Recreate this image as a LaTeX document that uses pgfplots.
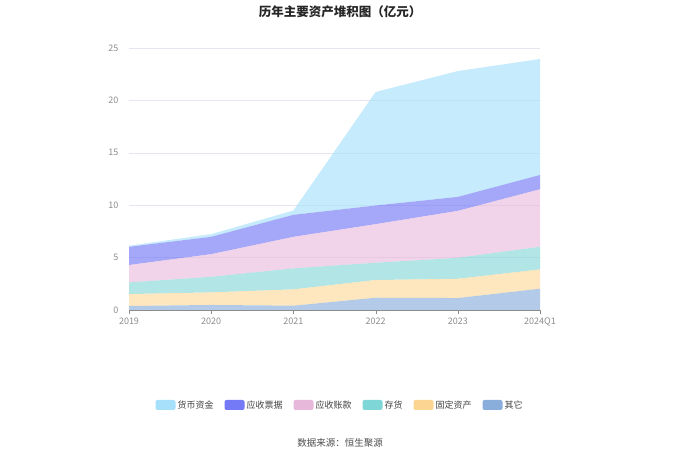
\documentclass[border=0pt]{standalone}
\usepackage{fontspec}
\setmainfont{Noto Sans CJK SC}
\usepackage{pgfplots}
\pgfplotsset{compat=1.18}
\definecolor{cCash}{HTML}{A6E0FA}
\definecolor{cNote}{HTML}{7479F5}
\definecolor{cRec}{HTML}{E8B8DA}
\definecolor{cInv}{HTML}{7FD6D6}
\definecolor{cFix}{HTML}{FDD592}
\definecolor{cOth}{HTML}{8AAEDC}
\definecolor{tickgray}{HTML}{8C8C8C}
\definecolor{gridc}{HTML}{E6E6F0}
\begin{document}
\begin{tikzpicture}[x=1pt,y=1pt]
\path[use as bounding box] (0,0) rectangle (680,460);
\node[font=\fontsize{12.5}{14}\selectfont\bfseries, text=black!85] at (340,448) {历年主要资产堆积图（亿元）};
\node[font=\fontsize{9.5}{11}\selectfont, text=black!70] at (340,17) {数据来源：恒生聚源};
\begin{axis}[
  at={(129pt,150pt)}, anchor=origin,
  scale only axis, width=411pt, height=262pt,
  xmin=0, xmax=5, ymin=0, ymax=25,
  stack plots=y,
  xtick={0,1,2,3,4,5},
  xticklabels={2019,2020,2021,2022,2023,2024Q1},
  ytick={0,5,10,15,20,25},
  /pgf/number format/assume math mode=true,
  ticklabel style={font=\fontsize{9}{10}\selectfont, text=tickgray},
  axis x line*=bottom, axis y line*=left,
  x axis line style={-, draw=black!45},
  y axis line style={draw=none},
  xtick style={draw=black!45},
  tick align=outside, major tick length=4pt,
  ymajorgrids, grid style={draw=gridc},
  ytick style={draw=none},
  yticklabel style={xshift=-3pt},
  clip=false,
  reverse legend,
  legend columns=6,
  legend style={at={(0.5134,-0.3626)}, anchor=center, draw=none, fill=none,
    font=\fontsize{9}{10}\selectfont, text=black!75,
    /tikz/every even column/.append style={column sep=9pt}},
  legend cell align=left,
]
\addplot[draw=none, fill=cOth, fill opacity=0.65,
  legend image code/.code={\fill[cOth, fill opacity=1, rounded corners=2pt] (0pt,-5pt) rectangle (20pt,5pt);}]
  coordinates {(0,0.38) (1,0.48) (2,0.41) (3,1.17) (4,1.14) (5,2.03)} \closedcycle;
\addlegendentry{其它}
\addplot[draw=none, fill=cFix, fill opacity=0.6,
  legend image code/.code={\fill[cFix, fill opacity=1, rounded corners=2pt] (0pt,-5pt) rectangle (20pt,5pt);}]
  coordinates {(0,1.14) (1,1.20) (2,1.56) (3,1.69) (4,1.84) (5,1.84)} \closedcycle;
\addlegendentry{固定资产}
\addplot[draw=none, fill=cInv, fill opacity=0.6,
  legend image code/.code={\fill[cInv, fill opacity=1, rounded corners=2pt] (0pt,-5pt) rectangle (20pt,5pt);}]
  coordinates {(0,1.11) (1,1.49) (2,2.00) (3,1.65) (4,2.00) (5,2.16)} \closedcycle;
\addlegendentry{存货}
\addplot[draw=none, fill=cRec, fill opacity=0.6,
  legend image code/.code={\fill[cRec, fill opacity=1, rounded corners=2pt] (0pt,-5pt) rectangle (20pt,5pt);}]
  coordinates {(0,1.66) (1,2.16) (2,3.01) (3,3.68) (4,4.48) (5,5.49)} \closedcycle;
\addlegendentry{应收账款}
\addplot[draw=none, fill=cNote, fill opacity=0.65,
  legend image code/.code={\fill[cNote, fill opacity=1, rounded corners=2pt] (0pt,-5pt) rectangle (20pt,5pt);}]
  coordinates {(0,1.74) (1,1.65) (2,2.10) (3,1.78) (4,1.33) (5,1.36)} \closedcycle;
\addlegendentry{应收票据}
\addplot[draw=none, fill=cCash, fill opacity=0.65,
  legend image code/.code={\fill[cCash, fill opacity=1, rounded corners=2pt] (0pt,-5pt) rectangle (20pt,5pt);}]
  coordinates {(0,0.10) (1,0.26) (2,0.41) (3,10.83) (4,12.01) (5,11.07)} \closedcycle;
\addlegendentry{货币资金}
\end{axis}
\end{tikzpicture}
\end{document}
